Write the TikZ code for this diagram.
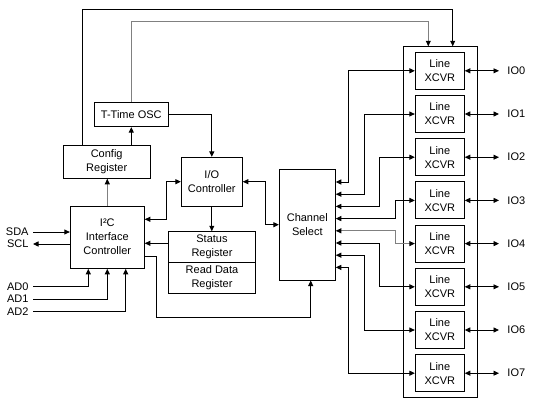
\documentclass[tikz,border=0pt]{standalone}
\usepackage{fontspec}
\setmainfont{Liberation Sans}
\usetikzlibrary{arrows.meta}
\begin{document}
\begin{tikzpicture}[x=1pt,y=-1pt,
  font=\fontsize{11}{14}\selectfont,
  line width=0.9pt,
  blk/.style={draw,inner sep=0pt,align=center},
  lbl/.style={inner sep=0pt},
  tip/.tip={Triangle[length=5.5pt,width=5pt,color=black]},
  arr/.style={-tip},
  darr/.style={tip-tip},
  gry/.style={draw=black!50}]
\useasboundingbox (0,0) rectangle (533,402);
% blocks
\node[blk,minimum width=74pt,minimum height=24.4pt] (osc) at (131.3,114.5) {T-Time OSC};
\node[blk,minimum width=86.7pt,minimum height=33pt] (cfg) at (106.7,161.8) {Config\\Register};
\node[blk,minimum width=61pt,minimum height=48.7pt] (ioc) at (211.8,181.7) {I/O\\Controller};
\node[blk,minimum width=74pt,minimum height=62.3pt] (i2c) at (107.3,237.2) {I²C\\Interface\\Controller};
\node[blk,minimum width=86.6pt,minimum height=30.6pt] (stat) at (212,247) {Status\\Register};
\node[blk,minimum width=86.6pt,minimum height=31pt] (rdr) at (212,277.8) {Read Data\\Register};
\node[blk,minimum width=56pt,minimum height=110.7pt] (chs) at (307.3,224.7) {Channel\\Select};
\node[blk,minimum width=74pt,minimum height=350.6pt] (outer) at (440.3,222) {};
\foreach \i in {0,...,7}{
  \node[blk,minimum width=49pt,minimum height=37pt] (x\i) at (439.8,70.8+43.2*\i) {Line\\XCVR};
  \node[lbl,anchor=west] (io\i) at (507,70.8+43.2*\i) {IO\i};
  \draw[darr] (x\i.east) -- ([xshift=-8pt]io\i.west);
}
% labels
\node[lbl,anchor=east] (sda) at (29,232) {SDA};
\node[lbl,anchor=east] (scl) at (29,244) {SCL};
\node[lbl,anchor=east] (ad0) at (29,286.7) {AD0};
\node[lbl,anchor=east] (ad1) at (29,299) {AD1};
\node[lbl,anchor=east] (ad2) at (29,311.3) {AD2};
% top connectors
\draw[arr] ([xshift=19.2pt]cfg.north west) |- (452.7,9.5) -- ([xshift=12.4pt]outer.north);
\draw[arr,gry] (osc.north) |- (428.3,21.7) -- ([xshift=-12pt]outer.north);
\draw[arr] (osc.south |- cfg.north) -- (osc.south);
\draw[arr] (osc.east) -| (ioc.north);
\draw[arr,gry] (i2c.north) -- (i2c.north |- cfg.south);
\draw[darr] ([yshift=17.9pt]i2c.east) -- ++(21.4,0) |- (ioc.west);
\draw[darr] (ioc.east) -- ++(22.7,0) |- (chs.west);
\draw[arr] (ioc.south) -- (ioc.south |- stat.north);
\draw[arr] ([yshift=3.7pt]stat.west) -- ([yshift=3.7pt]stat.west -| i2c.east);
\coordinate (jb) at (310.7,317.3);
\draw[arr] ([yshift=-18.8pt]i2c.east) -- ++(12,0) |- (jb) -- ([xshift=3.4pt]chs.south);
% inputs
\draw[arr] ([xshift=4pt]sda.east) -- (sda.east -| i2c.west);
\draw[arr] (i2c.west |- scl.east) -- ([xshift=4pt]scl.east);
\draw[arr] ([xshift=4pt]ad0.east) -| ([xshift=-19pt]i2c.south);
\draw[arr] ([xshift=4pt]ad1.east) -| (i2c.south);
\draw[arr] ([xshift=4pt]ad2.east) -| ([xshift=18.4pt]i2c.south);
% channel select to transceivers
\draw[darr] ([yshift=42.7pt]chs.east) -- ++(13,0) |- (x0.west);
\draw[darr] ([yshift=30.5pt]chs.east) -- ++(29,0) |- (x1.west);
\draw[darr] ([yshift=18.3pt]chs.east) -- ++(44,0) |- (x2.west);
\draw[darr] ([yshift=6.1pt]chs.east) -- ++(59.7,0) |- (x3.west);
\draw[darr,gry] ([yshift=-6.1pt]chs.east) -- ++(59.7,0) |- (x4.west);
\draw[darr] ([yshift=-18.3pt]chs.east) -- ++(44,0) |- (x5.west);
\draw[darr] ([yshift=-30.5pt]chs.east) -- ++(29,0) |- (x6.west);
\draw[darr] ([yshift=-42.7pt]chs.east) -- ++(13,0) |- (x7.west);
\end{tikzpicture}
\end{document}
